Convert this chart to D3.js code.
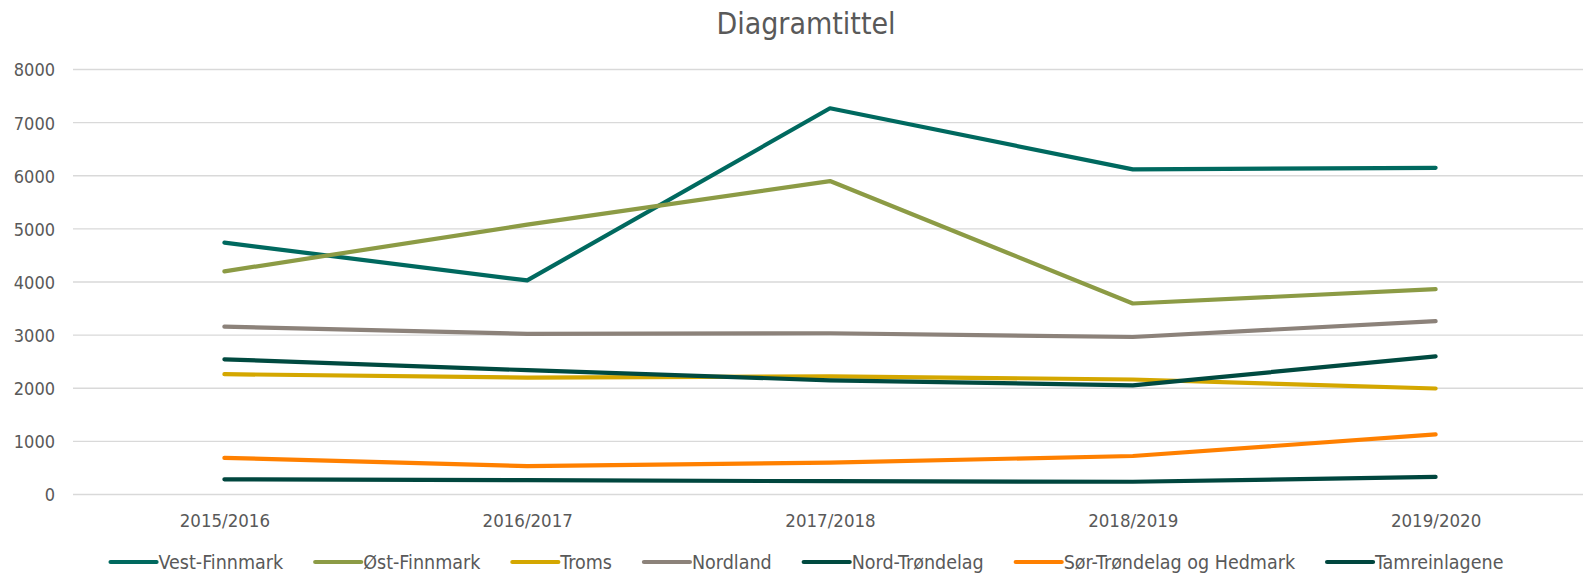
<!DOCTYPE html>
<html><head><meta charset="utf-8">
<script src="https://cdn.jsdelivr.net/npm/d3@7/dist/d3.min.js"></script>
<style>
body{margin:0;background:#fff;}
svg text{font-family:"DejaVu Sans Condensed","DejaVu Sans",sans-serif;font-stretch:condensed;fill:#595959;}
</style></head>
<body><svg id="c" width="1583" height="576"></svg>
<script>
const categories = ["2015/2016","2016/2017","2017/2018","2018/2019","2019/2020"];
const seriesNames = ["Vest-Finnmark","Øst-Finnmark","Troms","Nordland","Nord-Trøndelag","Sør-Trøndelag og Hedmark","Tamreinlagene"];
const vestFinnmark = [4740, 4030, 7270, 6120, 6150];
const ostFinnmark = [4200, 5080, 5900, 3595, 3865];
const troms = [2265, 2200, 2225, 2165, 1995];
const nordland = [3160, 3025, 3035, 2965, 3265];
const nordTrondelag = [2545, 2340, 2150, 2055, 2600];
const sorTrondelag = [690, 535, 600, 725, 1130];
const tamreinlagene = [285, 270, 250, 240, 330];
const yTicks = [0,1000,2000,3000,4000,5000,6000,7000,8000];
const colors = ["#00695F","#8C9B45","#D4A700","#8C827A","#004A40","#FF8000","#00463E"];
const allValues = [vestFinnmark, ostFinnmark, troms, nordland, nordTrondelag, sorTrondelag, tamreinlagene];

const svg = d3.select("#c");
const L = 73, R = 1587, T = 69.5, B = 494.5;
const x = d3.scalePoint().domain(categories).range([L, R]).padding(0.5);
const y = d3.scaleLinear().domain([0, 8000]).range([B, T]);

// gridlines
svg.append("g").selectAll("line").data(yTicks).join("line")
  .attr("x1", L).attr("x2", 1583).attr("y1", d => y(d)).attr("y2", d => y(d))
  .attr("stroke", "#d9d9d9").attr("stroke-width", 1.3);

// y axis labels
const yAxis = d3.axisLeft(y).tickValues(yTicks).tickSize(0).tickPadding(0).tickFormat(d3.format("d"));
const gy = svg.append("g").attr("transform", "translate(55,0)").call(yAxis);
gy.select(".domain").remove();
gy.selectAll("text").attr("font-size", 18).attr("font-family", null).attr("dy", "0.36em").attr("fill", "#595959");

// x axis labels
const xAxis = d3.axisBottom(x).tickSize(0).tickPadding(0);
const gx = svg.append("g").attr("transform", "translate(0,527)").call(xAxis);
gx.select(".domain").remove();
gx.selectAll("text").attr("font-size", 18.5).attr("font-family", null).attr("dy", 0).attr("fill", "#595959");

// lines
const line = d3.line().x((d, i) => x(categories[i])).y(d => y(d));
svg.append("g").selectAll("path").data(allValues).join("path")
  .attr("d", d => line(d)).attr("fill", "none")
  .attr("stroke", (d, i) => colors[i]).attr("stroke-width", 4.2)
  .attr("stroke-linecap", "round").attr("stroke-linejoin", "round");

// title
svg.append("text").attr("x", 806).attr("y", 34).attr("text-anchor", "middle")
  .attr("font-size", 30).text("Diagramtittel");

// legend
const lg = svg.append("g");
const items = lg.selectAll("g").data(seriesNames).join("g");
items.append("line").attr("x1", 0).attr("x2", 46).attr("y1", 0).attr("y2", 0)
  .attr("stroke", (d, i) => colors[i]).attr("stroke-width", 4.2).attr("stroke-linecap", "round");
items.append("text").attr("x", 48).attr("y", 0).attr("dy", "0.36em").attr("font-size", 19.5).text(d => d);
let cx = 0;
const gap = 32;
const widths = [];
items.each(function () { widths.push(d3.select(this).select("text").node().getComputedTextLength()); });
items.attr("transform", (d, i) => { const t = cx; cx += 48 + widths[i] + gap; return `translate(${t},0)`; });
const total = cx - gap;
lg.attr("transform", `translate(${807 - total / 2},562)`);
</script></body></html>
